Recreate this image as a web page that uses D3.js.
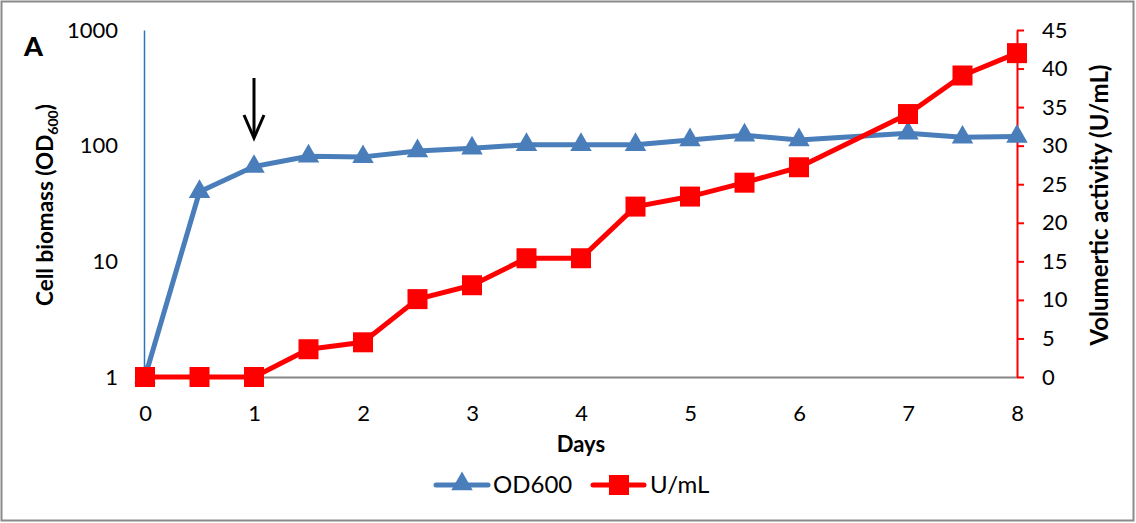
<!DOCTYPE html>
<html><head><meta charset="utf-8">
<script src="https://cdn.jsdelivr.net/npm/d3@7"></script>
<style>body{margin:0;background:#fff;}svg{display:block;font-family:Lato,"Liberation Sans",sans-serif;}</style>
</head><body><svg id="c" width="1136" height="523"></svg>
<script>
const days = [0,0.5,1,1.5,2,2.5,3,3.5,4,4.5,5,5.5,6,7,7.5,8];
const od600 = [1,40,66,81,80,90,95,102,102,102,112,123,112,128,118,120];
const uml = [0,0,0,3.6,4.5,10.1,11.9,15.4,15.4,22.1,23.4,25.2,27.2,34.1,39.1,42.0];
const xTicks = [0,1,2,3,4,5,6,7,8];
const leftTicks = [1,10,100,1000];
const rightTicks = [0,5,10,15,20,25,30,35,40,45];
const blue = "#4a7ebb", red = "#ff0000";

const svg = d3.select("#c");
svg.append("rect").attr("x",1.5).attr("y",1.5).attr("width",1132).attr("height",519).attr("fill","#fff").attr("stroke","#8a8a8a").attr("stroke-width",2);

const x = d3.scaleLinear().domain([0,8]).range([145,1017]);
const yL = d3.scaleLog().domain([1,1000]).range([377,30]);
const yR = d3.scaleLinear().domain([0,45]).range([377,30]);

// bottom axis
const gx = svg.append("g").attr("transform","translate(0,377)")
  .call(d3.axisBottom(x).tickValues(xTicks).tickSize(0).tickPadding(28).tickFormat(d3.format("d")));
gx.select(".domain").attr("stroke","#868686").attr("stroke-width",2);
gx.selectAll("text").attr("font-size",22).attr("fill","#000").attr("font-family","Lato");

// left axis
const gl = svg.append("g").attr("transform","translate(144,0)")
  .call(d3.axisLeft(yL).tickValues(leftTicks).tickSize(0).tickPadding(26).tickFormat(d3.format("d")));
gl.select(".domain").attr("stroke","#2e75b6").attr("stroke-width",1.5);
gl.selectAll("text").attr("font-size",22).attr("fill","#000").attr("font-family","Lato");

// right axis
const gr = svg.append("g").attr("transform","translate(1017,0)")
  .call(d3.axisRight(yR).tickValues(rightTicks).tickSize(7).tickSizeOuter(0).tickPadding(18).tickFormat(d3.format("d")));
gr.select(".domain").attr("stroke",red).attr("stroke-width",2);
gr.selectAll(".tick line").attr("stroke",red).attr("stroke-width",2);
gr.selectAll("text").attr("font-size",22).attr("fill","#000").attr("font-family","Lato");

// lines
const lineOD = d3.line().x((d,i)=>x(days[i])).y(d=>yL(d));
const lineU = d3.line().x((d,i)=>x(days[i])).y(d=>yR(d));
svg.append("path").datum(od600).attr("d",lineOD).attr("fill","none").attr("stroke",blue).attr("stroke-width",5).attr("stroke-linejoin","round");
svg.append("path").datum(uml).attr("d",lineU).attr("fill","none").attr("stroke",red).attr("stroke-width",5).attr("stroke-linejoin","round");

const tri = d3.symbol().type(d3.symbolTriangle).size(200);
svg.selectAll(".tri").data(od600).enter().append("path")
  .attr("d",tri).attr("transform",(d,i)=>`translate(${x(days[i])},${yL(d)})`).attr("fill",blue);
svg.selectAll(".sq").data(uml).enter().append("rect")
  .attr("x",(d,i)=>x(days[i])-10).attr("y",d=>yR(d)-10).attr("width",20).attr("height",20).attr("fill",red);

// arrow
svg.append("line").attr("x1",x(1)).attr("x2",x(1)).attr("y1",78).attr("y2",137).attr("stroke","#000").attr("stroke-width",3);
svg.append("path").attr("d",`M${x(1)-10},115 L${x(1)},138 L${x(1)+10},115`).attr("fill","none").attr("stroke","#000").attr("stroke-width",3);

// labels
svg.append("text").attr("x",24).attr("y",56).attr("font-size",27).attr("font-weight",900).text("A");
svg.append("text").attr("x",x(4)).attr("y",452).attr("text-anchor","middle").attr("font-size",22).attr("font-weight","bold").text("Days");
const lt = svg.append("text").attr("transform","translate(53,205) rotate(-90)").attr("text-anchor","middle").attr("font-size",22.5).attr("font-weight","bold");
lt.append("tspan").text("Cell biomass (OD");
lt.append("tspan").attr("font-size",14).attr("dy",5).text("600");
lt.append("tspan").attr("dy",-5).text(")");
svg.append("text").attr("transform","translate(1108,205) rotate(-90)").attr("text-anchor","middle").attr("font-size",24).attr("font-weight","bold").text("Volumertic activity (U/mL)");

// legend
const lg = svg.append("g");
lg.append("line").attr("x1",436).attr("x2",488).attr("y1",485).attr("y2",485).attr("stroke",blue).attr("stroke-width",5).attr("stroke-linecap","round");
lg.append("path").attr("d",tri).attr("transform","translate(462,484)").attr("fill",blue);
lg.append("text").attr("x",493).attr("y",493).attr("font-size",24).text("OD600");
lg.append("line").attr("x1",593).attr("x2",644).attr("y1",485).attr("y2",485).attr("stroke",red).attr("stroke-width",5).attr("stroke-linecap","round");
lg.append("rect").attr("x",609).attr("y",475).attr("width",20).attr("height",20).attr("fill",red);
lg.append("text").attr("x",650).attr("y",493).attr("font-size",24).text("U/mL");
</script></body></html>
